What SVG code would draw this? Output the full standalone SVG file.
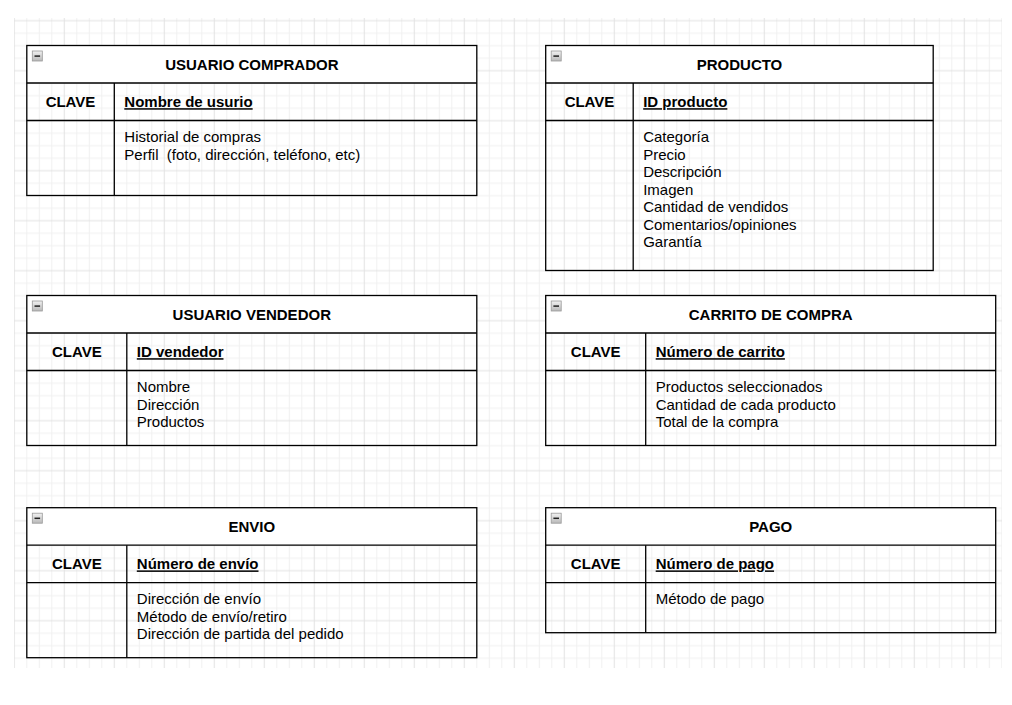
<svg xmlns="http://www.w3.org/2000/svg" width="1012" height="705" viewBox="0 0 1012 705">
<style>
.bd{fill:none;stroke:#000;stroke-width:1.3}
.hd{fill:#fff;stroke:none}
.ln{stroke:#000;stroke-width:1.3;fill:none}
text{font-family:"Liberation Sans",Arial,sans-serif;font-size:15px;fill:#000}
.t{font-weight:bold;text-anchor:middle}
.k{font-weight:bold;text-anchor:middle}
.f{font-weight:bold;text-decoration:underline}
.b{white-space:pre}
.ic{fill:url(#ig);stroke:#999;stroke-width:0.8}
.im{stroke:#222;stroke-width:1.5}
</style>
<defs>
<pattern id="grid" patternUnits="userSpaceOnUse" x="8.05" y="14.45" width="50" height="50">
<path d="M0 18.75H50M0 31.25H50M0 43.75H50M18.75 0V50M31.25 0V50M43.75 0V50" stroke="#f0f0f0" stroke-width="1" fill="none"/>
<path d="M0 6.25H50M6.25 0V50" stroke="#e2e2e2" stroke-width="1" fill="none"/>
</pattern>
<linearGradient id="ig" x1="0" y1="0" x2="0" y2="1">
<stop offset="0" stop-color="#f2f2f2"/>
<stop offset="1" stop-color="#b8b8b8"/>
</linearGradient>
<g id="icon">
<rect class="ic" x="0" y="0" width="10" height="10"/>
<line class="im" x1="2.2" y1="5.1" x2="7.8" y2="5.1"/>
</g>
</defs>
<rect width="1012" height="705" fill="#fff"/>
<rect x="14" y="18" width="988" height="650" fill="url(#grid)"/>

<g id="connectors"></g>

<g id="usuario-comprador">
<rect class="hd" x="26.8" y="45.5" width="450" height="37.5"/>
<rect class="bd" x="26.8" y="45.5" width="450" height="150"/>
<line class="ln" x1="26.8" y1="83" x2="476.8" y2="83"/>
<line class="ln" x1="26.8" y1="120.5" x2="476.8" y2="120.5"/>
<line class="ln" x1="114.3" y1="83" x2="114.3" y2="195.5"/>
<use href="#icon" x="32.3" y="51"/>
<text class="t" x="251.8" y="70.2">USUARIO COMPRADOR</text>
<text class="k" x="70.5" y="107.2">CLAVE</text>
<text class="f" x="124.3" y="107.2">Nombre de usurio</text>
<text class="b" x="124.3" y="142">Historial de compras</text>
<text class="b" x="124.3" y="159.5">Perfil  (foto, dirección, teléfono, etc)</text>
</g>

<g id="producto">
<rect class="hd" x="545.7" y="45.5" width="387.5" height="37.5"/>
<rect class="bd" x="545.7" y="45.5" width="387.5" height="225"/>
<line class="ln" x1="545.7" y1="83" x2="933.2" y2="83"/>
<line class="ln" x1="545.7" y1="120.5" x2="933.2" y2="120.5"/>
<line class="ln" x1="633.2" y1="83" x2="633.2" y2="270.5"/>
<use href="#icon" x="551.2" y="51"/>
<text class="t" x="739.5" y="70.2">PRODUCTO</text>
<text class="k" x="589.5" y="107.2">CLAVE</text>
<text class="f" x="643.2" y="107.2">ID producto</text>
<text class="b" x="643.2" y="142">Categoría</text>
<text class="b" x="643.2" y="159.5">Precio</text>
<text class="b" x="643.2" y="177">Descripción</text>
<text class="b" x="643.2" y="194.5">Imagen</text>
<text class="b" x="643.2" y="212">Cantidad de vendidos</text>
<text class="b" x="643.2" y="229.5">Comentarios/opiniones</text>
<text class="b" x="643.2" y="247">Garantía</text>
</g>

<g id="usuario-vendedor">
<rect class="hd" x="26.8" y="295.5" width="450" height="37.5"/>
<rect class="bd" x="26.8" y="295.5" width="450" height="150"/>
<line class="ln" x1="26.8" y1="333" x2="476.8" y2="333"/>
<line class="ln" x1="26.8" y1="370.5" x2="476.8" y2="370.5"/>
<line class="ln" x1="126.8" y1="333" x2="126.8" y2="445.5"/>
<use href="#icon" x="32.3" y="301"/>
<text class="t" x="251.8" y="320.2">USUARIO VENDEDOR</text>
<text class="k" x="76.8" y="357.2">CLAVE</text>
<text class="f" x="136.8" y="357.2">ID vendedor</text>
<text class="b" x="136.8" y="392">Nombre</text>
<text class="b" x="136.8" y="409.5">Dirección</text>
<text class="b" x="136.8" y="427">Productos</text>
</g>

<g id="carrito-de-compra">
<rect class="hd" x="545.7" y="295.5" width="450" height="37.5"/>
<rect class="bd" x="545.7" y="295.5" width="450" height="150"/>
<line class="ln" x1="545.7" y1="333" x2="995.7" y2="333"/>
<line class="ln" x1="545.7" y1="370.5" x2="995.7" y2="370.5"/>
<line class="ln" x1="645.7" y1="333" x2="645.7" y2="445.5"/>
<use href="#icon" x="551.2" y="301"/>
<text class="t" x="770.7" y="320.2">CARRITO DE COMPRA</text>
<text class="k" x="595.7" y="357.2">CLAVE</text>
<text class="f" x="655.7" y="357.2">Número de carrito</text>
<text class="b" x="655.7" y="392">Productos seleccionados</text>
<text class="b" x="655.7" y="409.5">Cantidad de cada producto</text>
<text class="b" x="655.7" y="427">Total de la compra</text>
</g>

<g id="envio">
<rect class="hd" x="26.8" y="507.7" width="450" height="37.5"/>
<rect class="bd" x="26.8" y="507.7" width="450" height="150"/>
<line class="ln" x1="26.8" y1="545.2" x2="476.8" y2="545.2"/>
<line class="ln" x1="26.8" y1="582.7" x2="476.8" y2="582.7"/>
<line class="ln" x1="126.8" y1="545.2" x2="126.8" y2="657.7"/>
<use href="#icon" x="32.3" y="513.2"/>
<text class="t" x="251.8" y="532.4">ENVIO</text>
<text class="k" x="76.8" y="569.4">CLAVE</text>
<text class="f" x="136.8" y="569.4">Número de envío</text>
<text class="b" x="136.8" y="604.2">Dirección de envío</text>
<text class="b" x="136.8" y="621.7">Método de envío/retiro</text>
<text class="b" x="136.8" y="639.2">Dirección de partida del pedido</text>
</g>

<g id="pago">
<rect class="hd" x="545.7" y="507.7" width="450" height="37.5"/>
<rect class="bd" x="545.7" y="507.7" width="450" height="125"/>
<line class="ln" x1="545.7" y1="545.2" x2="995.7" y2="545.2"/>
<line class="ln" x1="545.7" y1="582.7" x2="995.7" y2="582.7"/>
<line class="ln" x1="645.7" y1="545.2" x2="645.7" y2="632.7"/>
<use href="#icon" x="551.2" y="513.2"/>
<text class="t" x="770.7" y="532.4">PAGO</text>
<text class="k" x="595.7" y="569.4">CLAVE</text>
<text class="f" x="655.7" y="569.4">Número de pago</text>
<text class="b" x="655.7" y="604.2">Método de pago</text>
</g>
</svg>
